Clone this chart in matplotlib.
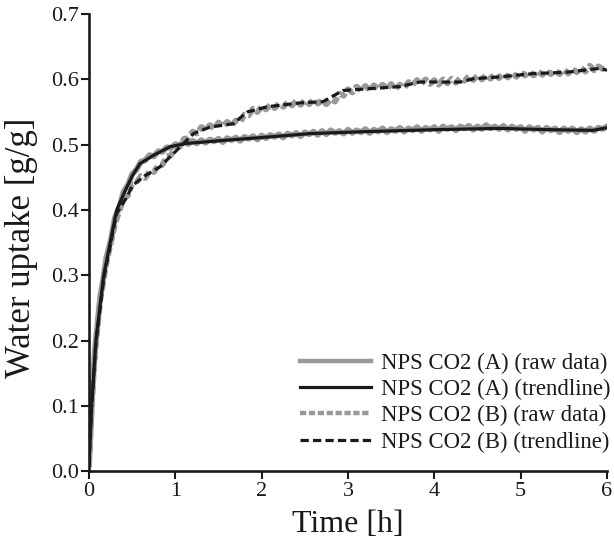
import numpy as np
import matplotlib
matplotlib.use("Agg")
import matplotlib.pyplot as plt

plt.rcParams['font.family'] = ['Liberation Serif', 'DejaVu Serif']

# ---- data ----
raw_t_early = [0.0, 0.01, 0.02, 0.03, 0.05, 0.07, 0.10, 0.13, 0.16, 0.20]
raw_t_late = np.round(np.arange(0.25, 6.001, 0.05), 2)
raw_t = np.concatenate([raw_t_early, raw_t_late])

raw_A = [0.010, 0.042, 0.068, 0.102, 0.148, 0.188, 0.228, 0.268, 0.290, 0.327,
         0.352, 0.388, 0.403, 0.428, 0.438, 0.455, 0.462, 0.474, 0.476, 0.484,
         0.482, 0.490, 0.489, 0.496, 0.495, 0.501, 0.499, 0.505, 0.501, 0.506,
         0.502, 0.507, 0.503, 0.508, 0.505, 0.509, 0.504, 0.510, 0.507, 0.511,
         0.506, 0.512, 0.509, 0.513, 0.508, 0.514, 0.510, 0.515, 0.512, 0.516,
         0.511, 0.517, 0.514, 0.518, 0.513, 0.519, 0.516, 0.520, 0.515, 0.521,
         0.516, 0.522, 0.518, 0.521, 0.517, 0.523, 0.518, 0.522, 0.519, 0.524,
         0.518, 0.523, 0.520, 0.525, 0.519, 0.524, 0.521, 0.526, 0.520, 0.525,
         0.522, 0.527, 0.521, 0.526, 0.523, 0.527, 0.521, 0.528, 0.524, 0.527,
         0.522, 0.528, 0.525, 0.529, 0.523, 0.528, 0.524, 0.530, 0.525, 0.528,
         0.524, 0.529, 0.523, 0.528, 0.524, 0.527, 0.521, 0.527, 0.523, 0.526,
         0.520, 0.526, 0.522, 0.525, 0.519, 0.525, 0.521, 0.525, 0.519, 0.524,
         0.520, 0.525, 0.521, 0.526, 0.524, 0.528]

raw_B = [0.010, 0.040, 0.066, 0.096, 0.143, 0.180, 0.223, 0.262, 0.286, 0.318,
         0.348, 0.378, 0.398, 0.418, 0.422, 0.440, 0.442, 0.452, 0.449, 0.459,
         0.458, 0.468, 0.469, 0.482, 0.484, 0.495, 0.497, 0.509, 0.510, 0.520,
         0.517, 0.527, 0.524, 0.530, 0.525, 0.534, 0.528, 0.535, 0.529, 0.537,
         0.534, 0.546, 0.545, 0.555, 0.550, 0.558, 0.554, 0.561, 0.556, 0.563,
         0.558, 0.565, 0.560, 0.567, 0.561, 0.568, 0.562, 0.569, 0.563, 0.568,
         0.562, 0.570, 0.566, 0.578, 0.575, 0.585, 0.580, 0.589, 0.583, 0.590,
         0.584, 0.591, 0.585, 0.592, 0.585, 0.593, 0.586, 0.592, 0.587, 0.596,
         0.592, 0.599, 0.594, 0.600, 0.593, 0.599, 0.592, 0.600, 0.594, 0.601,
         0.595, 0.602, 0.598, 0.605, 0.599, 0.606, 0.600, 0.607, 0.601, 0.608,
         0.602, 0.609, 0.603, 0.610, 0.604, 0.611, 0.606, 0.612, 0.606, 0.613,
         0.607, 0.613, 0.608, 0.614, 0.608, 0.615, 0.609, 0.616, 0.611, 0.618,
         0.612, 0.621, 0.614, 0.620, 0.616, 0.614]

trend_A_t = [0.0, 0.03, 0.08, 0.17, 0.32, 0.42, 0.50, 0.59, 0.75, 0.94,
             1.13, 1.60, 2.00, 2.56, 3.20, 4.00, 4.76, 5.34, 5.84, 6.00]
trend_A = [0.012, 0.100, 0.200, 0.300, 0.400, 0.430, 0.452, 0.471, 0.484, 0.497,
           0.502, 0.507, 0.511, 0.517, 0.520, 0.523, 0.525, 0.523, 0.522, 0.526]

trend_B_t = [0.0, 0.03, 0.08, 0.17, 0.32, 0.44, 0.50, 0.63, 0.82, 1.02,
             1.21, 1.40, 1.67, 1.83, 2.06, 2.44, 2.71, 2.94, 3.60, 3.83,
             4.30, 4.45, 4.76, 5.15, 5.53, 5.92, 6.00]
trend_B = [0.012, 0.098, 0.198, 0.295, 0.395, 0.420, 0.437, 0.451, 0.466, 0.492,
           0.517, 0.527, 0.532, 0.550, 0.558, 0.564, 0.566, 0.583, 0.589, 0.596,
           0.596, 0.601, 0.604, 0.609, 0.611, 0.617, 0.614]

labels = ["NPS CO2 (A) (raw data)", "NPS CO2 (A) (trendline)",
          "NPS CO2 (B) (raw data)", "NPS CO2 (B) (trendline)"]
xticks = [0, 1, 2, 3, 4, 5, 6]
yticks = [0.0, 0.1, 0.2, 0.3, 0.4, 0.5, 0.6, 0.7]

# ---- plot ----
fig = plt.figure(figsize=(6.14, 5.44), dpi=100)
ax = fig.add_axes([0.145, 0.134, 0.8436, 0.840])

gray = '#999999'
black = '#1a1a1a'
ax.plot(raw_t, raw_A, color=gray, lw=4.2, solid_joinstyle='round', label=labels[0], zorder=2)
ax.plot(trend_A_t, trend_A, color=black, lw=2.3, label=labels[1], zorder=4)
ax.plot(raw_t, raw_B, color=gray, lw=4.2, dashes=(1.4, 0.6), label=labels[2], zorder=2)
ax.plot(trend_B_t, trend_B, color=black, lw=2.3, dashes=(2.6, 1.3), label=labels[3], zorder=4)

ax.set_xlim(0, 6)
ax.set_ylim(0, 0.7)
ax.set_xticks(xticks)
ax.set_xticklabels([str(v) for v in xticks])
ax.set_yticks(yticks)
ax.set_yticklabels([f"{v:.1f}" for v in yticks])

for s in ['top', 'right']:
    ax.spines[s].set_visible(False)
for s in ['left', 'bottom']:
    ax.spines[s].set_linewidth(1.9)
    ax.spines[s].set_color(black)
ax.tick_params(direction='out', length=6, width=1.5, colors=black, labelsize=16, pad=2)
ax.tick_params(axis='y', pad=1)

ax.set_xlabel("Time [h]", fontsize=23, color=black, labelpad=6)
ax.set_ylabel("Water uptake [g/g]", fontsize=25, color=black)
ax.yaxis.set_label_coords(-0.098, 0.488)

leg = ax.legend(loc='lower right', bbox_to_anchor=(1.025, 0.02), frameon=False,
                fontsize=16.4, handlelength=3.1, handletextpad=0.45,
                labelspacing=0.23, borderaxespad=0.0)
for line in leg.get_lines():
    line.set_linewidth(min(line.get_linewidth(), 3.2))
for t in leg.get_texts():
    t.set_color(black)

fig.savefig("out.png", dpi=100)
